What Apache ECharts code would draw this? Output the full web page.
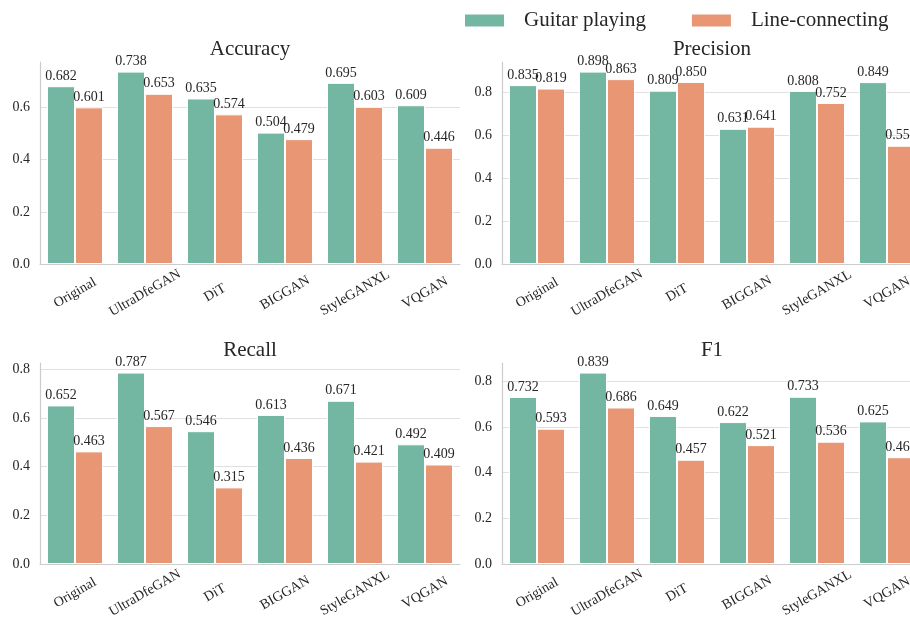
<!DOCTYPE html>
<html>
<head>
<meta charset="utf-8">
<script src="https://cdn.jsdelivr.net/npm/echarts@6/dist/echarts.min.js"></script>
<style>
  html, body { margin: 0; padding: 0; background: #fff; overflow: hidden; }
  /* 画布比窗口宽，右侧子图在窗口边缘被截断 */
  #chart { width: 940px; height: 624px; }
</style>
</head>
<body>
<div id="chart"></div>
<script>
// 模型类别
var models = ['Original', 'UltraDfeGAN', 'DiT', 'BIGGAN', 'StyleGANXL', 'VQGAN'];
var seriesNames = ['Guitar playing', 'Line-connecting'];
var titles = ['Accuracy', 'Precision', 'Recall', 'F1'];

// 各指标数据
var accGuitar = [0.682, 0.738, 0.635, 0.504, 0.695, 0.609];
var accLine = [0.601, 0.653, 0.574, 0.479, 0.603, 0.446];
var preGuitar = [0.835, 0.898, 0.809, 0.631, 0.808, 0.849];
var preLine = [0.819, 0.863, 0.850, 0.641, 0.752, 0.552];
var recGuitar = [0.652, 0.787, 0.546, 0.613, 0.671, 0.492];
var recLine = [0.463, 0.567, 0.315, 0.436, 0.421, 0.409];
var f1Guitar = [0.732, 0.839, 0.649, 0.622, 0.733, 0.625];
var f1Line = [0.593, 0.686, 0.457, 0.521, 0.536, 0.468];

var colors = ['#73b6a1', '#e99675'];
var font = 'Liberation Serif';
var textColor = '#262626';

var panels = [
	{ g: accGuitar, l: accLine, left: 40, top: 62, height: 202, titleTop: 39 },
	{ g: preGuitar, l: preLine, left: 502, top: 62, height: 202, titleTop: 39 },
	{ g: recGuitar, l: recLine, left: 40, top: 363, height: 201, titleTop: 340 },
	{ g: f1Guitar, l: f1Line, left: 502, top: 363, height: 201, titleTop: 340 }
];

var grid = [], xAxis = [], yAxis = [], series = [], title = [];
panels.forEach(function(p, i) {
	grid.push({ left: p.left, top: p.top, width: 420, height: p.height });
	title.push({
		text: titles[i],
		left: p.left + 210,
		top: p.titleTop,
		textAlign: 'center',
		padding: 0,
		textStyle: { fontFamily: font, fontSize: 21, fontWeight: 'normal', color: textColor }
	});
	xAxis.push({
		type: 'category',
		gridIndex: i,
		data: models,
		axisTick: { show: false },
		axisLine: { lineStyle: { color: '#cccccc', width: 1.2 } },
		axisLabel: {
			rotate: 30,
			align: 'center',
			verticalAlign: 'middle',
			margin: 29,
			interval: 0,
			fontFamily: font,
			fontSize: 14,
			color: textColor
		}
	});
	var maxVal = Math.max.apply(null, p.g.concat(p.l)) * 1.05; // 上方留白
	yAxis.push({
		type: 'value',
		gridIndex: i,
		min: 0,
		max: maxVal,
		interval: 0.2,
		axisLine: { show: true, lineStyle: { color: '#cccccc', width: 1.2 } },
		axisTick: { show: false },
		splitLine: { show: true, showMaxLine: false, lineStyle: { color: '#e0e0e0', width: 1 } },
		axisLabel: {
			showMaxLabel: false,
			margin: 10,
			fontFamily: font,
			fontSize: 14,
			color: textColor,
			formatter: function(v) { return v.toFixed(1); }
		}
	});
	[p.g, p.l].forEach(function(d, k) {
		series.push({
			name: seriesNames[k],
			type: 'bar',
			xAxisIndex: i,
			yAxisIndex: i,
			data: d,
			barGap: '0%',
			barCategoryGap: '20%',
			itemStyle: { color: colors[k], borderColor: '#ffffff', borderWidth: 1 },
			label: {
				show: true,
				position: 'top',
				distance: 3,
				fontFamily: font,
				fontSize: 14,
				color: textColor,
				formatter: function(o) { return o.value.toFixed(3); }
			}
		});
	});
});

var chart = echarts.init(document.getElementById('chart'));
chart.setOption({
	animation: false,
	backgroundColor: '#ffffff',
	title: title,
	legend: {
		data: seriesNames,
		left: 463,
		top: 10,
		padding: 0,
		itemWidth: 41,
		itemHeight: 14,
		itemGap: 44,
		icon: 'rect',
		textStyle: { fontFamily: font, fontSize: 21, color: textColor, padding: [0, 0, 0, 14] }
	},
	grid: grid,
	xAxis: xAxis,
	yAxis: yAxis,
	series: series
});
</script>
</body>
</html>
